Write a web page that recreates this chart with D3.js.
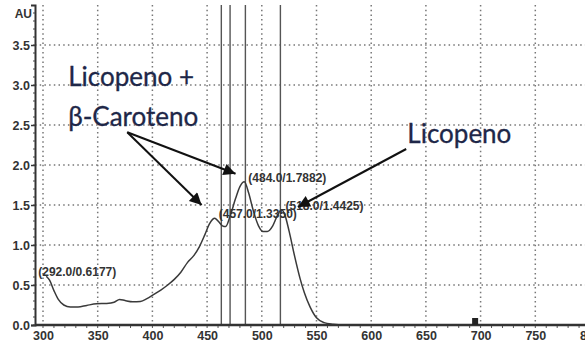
<!DOCTYPE html>
<html><head><meta charset="utf-8">
<script src="https://cdn.jsdelivr.net/npm/d3@7"></script>
<style>html,body{margin:0;padding:0;background:#fff;}svg{display:block;}</style>
</head><body>
<svg id="chart" width="585" height="349"></svg>
<script>
// ---- data ----
const wavelength = [303,306,310,314,319,325,332,340,349,358,365,370,375,382,389,395,401,408,414,420,426,432,438,443,448,452,455,457,460,464,467,471,476,480,484,488,492,497,501,505,510,514,518,521,525,530,535,539,544,550,557,565,575,650,800];
const absorbance = [0.61,0.56,0.43,0.32,0.25,0.225,0.225,0.245,0.265,0.27,0.285,0.32,0.305,0.29,0.295,0.33,0.38,0.44,0.50,0.57,0.66,0.78,0.87,0.98,1.13,1.26,1.32,1.335,1.30,1.24,1.23,1.36,1.58,1.73,1.79,1.65,1.44,1.24,1.17,1.17,1.24,1.36,1.44,1.38,1.17,0.86,0.58,0.40,0.23,0.09,0.03,0.01,0.0,0.0,0.0];
const peakNm = [292.0, 457.0, 484.0, 518.0];
const peakAU = [0.6177, 1.3350, 1.7882, 1.4425];
const peakLabels = ["(292.0/0.6177)", "(457.0/1.3350)", "(484.0/1.7882)", "(518.0/1.4425)"];
const cursorNm = [463, 471, 485, 517];
const xTicks = [300,350,400,450,500,550,600,650,700,750,800];
const yTicks = [0.0,0.5,1.0,1.5,2.0,2.5,3.0,3.5];
const markerNm = [695];
const yAxisTitle = "AU";
const annotationTexts = ["Licopeno +", "β-Caroteno", "Licopeno"];

// ---- scales ----
const svg = d3.select("#chart");
const x = d3.scaleLinear().domain([300, 800]).range([43, 590]);
const y = d3.scaleLinear().domain([0, 4]).range([325, 5]);
const xLeft = 35, yBottom = y(0), yTop = y(4);
const axisFont = "Liberation Sans, Arial, sans-serif";

// grid (dotted)
const grid = svg.append("g");
grid.selectAll("line.h").data(yTicks.filter(d => d > 0)).join("line")
  .attr("x1", xLeft).attr("x2", 585).attr("y1", d => y(d)).attr("y2", d => y(d))
  .attr("stroke", "#777").attr("stroke-width", 1.5).attr("stroke-dasharray", "1.5,3.2");
grid.selectAll("line.v").data(xTicks).join("line")
  .attr("x1", d => x(d)).attr("x2", d => x(d)).attr("y1", yTop).attr("y2", yBottom)
  .attr("stroke", "#777").attr("stroke-width", 1.5).attr("stroke-dasharray", "1.5,3.2");

// cursor lines
svg.append("g").selectAll("line").data(cursorNm).join("line")
  .attr("x1", d => x(d)).attr("x2", d => x(d)).attr("y1", yTop).attr("y2", yBottom)
  .attr("stroke", "#555").attr("stroke-width", 1.4);

// curve
const line = d3.line().x((d, i) => x(wavelength[i])).y((d, i) => y(absorbance[i])).curve(d3.curveMonotoneX);
svg.append("path").datum(absorbance).attr("d", line)
  .attr("fill", "none").attr("stroke", "#3a3a3a").attr("stroke-width", 1.5);

// axes
const yAxis = d3.axisLeft(y).tickValues(yTicks).tickFormat(d3.format(".1f")).tickSize(4).tickPadding(1);
const gy = svg.append("g").attr("transform", `translate(${xLeft},0)`).call(yAxis);
gy.select(".domain").attr("stroke", "#333").attr("stroke-width", 2);
gy.selectAll(".tick line").attr("stroke", "#333").attr("stroke-width", 1.5);
gy.selectAll("text").attr("font-family", axisFont).attr("font-size", 12.5)
  .attr("font-weight", "bold").attr("fill", "#333");
// minor ticks on y
svg.append("g").selectAll("line").data(d3.range(0, 40).map(i => i / 10)).join("line")
  .attr("x1", xLeft - 2).attr("x2", xLeft).attr("y1", d => y(d)).attr("y2", d => y(d))
  .attr("stroke", "#444").attr("stroke-width", 1);

svg.append("text").attr("x", 32).attr("y", 18).attr("text-anchor", "end")
  .attr("font-family", axisFont).attr("font-size", 12).attr("font-weight", "bold")
  .attr("fill", "#333").text(yAxisTitle);

const xAxis = d3.axisBottom(x).tickValues(xTicks).tickFormat(d3.format("d")).tickSize(0).tickPadding(6);
const gx = svg.append("g").attr("transform", `translate(0,${yBottom})`).call(xAxis);
gx.select(".domain").remove();
gx.selectAll("text").attr("font-family", axisFont).attr("font-size", 12.5)
  .attr("font-weight", "bold").attr("fill", "#333");
// minor ticks on x
svg.append("g").selectAll("line").data(d3.range(300, 800, 10)).join("line")
  .attr("x1", d => x(d)).attr("x2", d => x(d)).attr("y1", yBottom).attr("y2", yBottom + 3)
  .attr("stroke", "#555").attr("stroke-width", 1);
svg.append("line").attr("x1", xLeft).attr("x2", 585).attr("y1", yBottom).attr("y2", yBottom)
  .attr("stroke", "#333").attr("stroke-width", 2.5);

// small marker on axis
svg.append("g").selectAll("rect").data(markerNm).join("rect")
  .attr("x", d => x(d) - 3).attr("y", yBottom - 7).attr("width", 6).attr("height", 7).attr("fill", "#222");

// peak labels
svg.append("g").selectAll("text").data(peakLabels).join("text")
  .attr("x", (d, i) => x(peakNm[i]) + 4).attr("y", (d, i) => y(peakAU[i]) + 0)
  .attr("font-family", axisFont).attr("font-size", 12).attr("font-weight", "bold")
  .attr("fill", "#333").text(d => d);

// annotations (arrows + labels), anchored in data units
const defs = svg.append("defs");
defs.append("marker").attr("id", "ah").attr("viewBox", "0 0 10 10").attr("refX", 10).attr("refY", 5)
  .attr("markerWidth", 16).attr("markerHeight", 12).attr("markerUnits", "userSpaceOnUse").attr("orient", "auto")
  .append("path").attr("d", "M0,0 L10,5 L0,10 Z").attr("fill", "#111");

const arrows = [
  [[377, 2.41], [476, 1.89]],
  [[377, 2.41], [445, 1.50]],
  [[632, 2.20], [533, 1.475]]
];
svg.append("g").selectAll("line").data(arrows).join("line")
  .attr("x1", d => x(d[0][0])).attr("y1", d => y(d[0][1]))
  .attr("x2", d => x(d[1][0])).attr("y2", d => y(d[1][1]))
  .attr("stroke", "#111").attr("stroke-width", 2).attr("marker-end", "url(#ah)");

const annPos = [[323, 2.99], [323, 2.49], [633, 2.275]];
svg.append("g").selectAll("text").data(annotationTexts).join("text")
  .attr("x", (d, i) => x(annPos[i][0])).attr("y", (d, i) => y(annPos[i][1]))
  .attr("font-family", "Lato, 'Open Sans', sans-serif").attr("font-size", 26)
  .attr("fill", "#1e2748").attr("stroke", "#1e2748").attr("stroke-width", 0.3).text(d => d);
</script>
</body></html>
